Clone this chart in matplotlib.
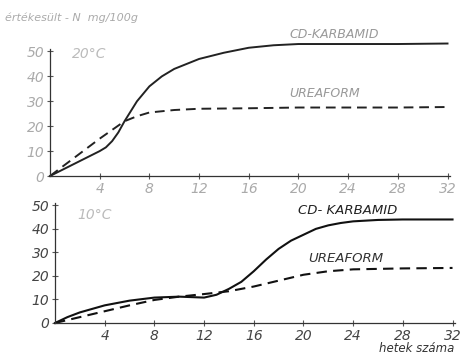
import matplotlib
matplotlib.use("Agg")
import matplotlib.pyplot as plt

# ---- data ----
weeks_top_cd = [0, 1, 2, 3, 4, 4.5, 5, 5.5, 6, 7, 8, 9, 10, 11, 12, 14, 16, 18, 20, 24, 28, 32]
cd_20 = [0, 2.5, 5, 7.5, 10, 11.5, 14, 17.5, 22, 30, 36, 40, 43, 45, 47, 49.5, 51.5, 52.5, 53, 53, 53, 53.2]
weeks_top_uf = [0, 2, 4, 6, 7, 8, 10, 12, 16, 20, 24, 28, 32]
uf_20 = [0, 7.5, 15, 22, 24, 25.5, 26.5, 27, 27.2, 27.5, 27.5, 27.5, 27.7]

weeks_bot_cd = [0, 1, 2, 3, 4, 6, 8, 10, 11, 12, 13, 14, 15, 16, 17, 18, 19, 20, 21, 22, 23, 24, 26, 28, 32]
cd_10 = [0, 2.5, 4.5, 6, 7.5, 9.5, 10.8, 11.2, 11, 10.8, 12, 14.5, 17.5, 22, 27, 31.5, 35, 37.5, 40, 41.5, 42.5, 43.2, 43.8, 44, 44]
weeks_bot_uf = [0, 2, 4, 6, 8, 10, 12, 14, 16, 18, 20, 22, 24, 28, 32]
uf_10 = [0, 2.5, 5, 7.5, 9.8, 11.2, 12.3, 13.5, 15.5, 18, 20.5, 22, 22.8, 23.2, 23.4]

x_ticks = [4, 8, 12, 16, 20, 24, 28, 32]
y_ticks = [0, 10, 20, 30, 40, 50]

FONT = ["DejaVu Sans Condensed", "Liberation Sans Narrow", "DejaVu Sans"]
plt.rcParams["font.family"] = FONT

W, H = 463, 357
fig = plt.figure(figsize=(W / 100, H / 100), dpi=100)


def setup(ax, col):
    ax.set_xlim(0, 32.2)
    ax.set_ylim(0, 51)
    for s in ("top", "right"):
        ax.spines[s].set_visible(False)
    for s in ("left", "bottom"):
        ax.spines[s].set_color("#333333")
        ax.spines[s].set_linewidth(0.9)
    ax.set_xticks(x_ticks)
    ax.set_yticks(y_ticks)
    ax.tick_params(direction="inout", length=4, width=0.8, color="#555555",
                   labelsize=10, labelcolor=col, pad=2)
    for lab in ax.get_xticklabels() + ax.get_yticklabels():
        lab.set_fontstyle("italic")
    ax.set_facecolor("none")


# top panel (20 C)
ax1 = fig.add_axes([50 / W, 1 - 176 / H, 400 / W, 127 / H])
setup(ax1, "#aaaaaa")
ax1.plot(weeks_top_cd, cd_20, color="#222222", lw=1.4, clip_on=False)
ax1.plot(weeks_top_uf, uf_20, color="#222222", lw=1.4, dashes=(5, 3), clip_on=False)
ax1.text(19.3, 57, "CD-KARBAMID", color="#999999", fontsize=9, style="italic",
         va="center", clip_on=False)
ax1.text(19.3, 33, "UREAFORM", color="#999999", fontsize=9, style="italic",
         va="center")
ax1.text(1.8, 49, "20°C", color="#bbbbbb", fontsize=10, style="italic", va="center")
fig.text(5 / W, 1 - 18 / H, "értékesült - N  mg/100g", color="#aaaaaa",
         fontsize=8, style="italic", va="center", ha="left")

# bottom panel (10 C)
ax2 = fig.add_axes([55 / W, 1 - 323 / H, 400 / W, 120 / H])
setup(ax2, "#444444")
ax2.plot(weeks_bot_cd, cd_10, color="#111111", lw=1.5, clip_on=False)
ax2.plot(weeks_bot_uf, uf_10, color="#111111", lw=1.5, dashes=(5, 3), clip_on=False)
ax2.text(19.6, 48, "CD- KARBAMID", color="#222222", fontsize=9.5, style="italic",
         va="center")
ax2.text(20.4, 27.5, "UREAFORM", color="#333333", fontsize=9.5, style="italic",
         va="center")
ax2.text(1.8, 46, "10°C", color="#bbbbbb", fontsize=10, style="italic", va="center")
fig.text(454 / W, 1 - 349 / H, "hetek száma", color="#333333", fontsize=8.5,
         style="italic", va="center", ha="right")

fig.savefig("out.png", dpi=100, facecolor="white")
